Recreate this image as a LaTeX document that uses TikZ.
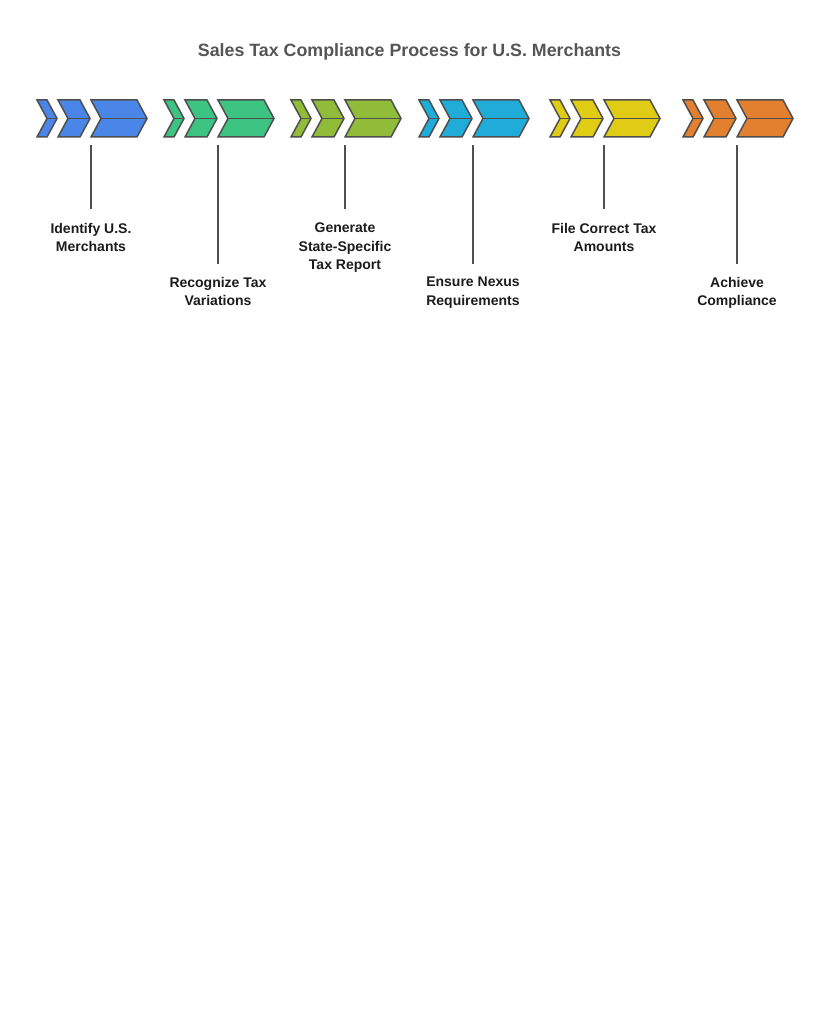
\documentclass[tikz,border=0pt]{standalone}
\usepackage{fontspec}
\setmainfont{Liberation Sans}
\usetikzlibrary{positioning}

\definecolor{stepblue}{HTML}{4A86E8}
\definecolor{stepgreen}{HTML}{3DC482}
\definecolor{stepolive}{HTML}{90BC3A}
\definecolor{stepcyan}{HTML}{20ACD8}
\definecolor{stepyellow}{HTML}{E0CC14}
\definecolor{steporange}{HTML}{E28030}
\definecolor{edgegray}{HTML}{4F4F4F}
\definecolor{titlegray}{HTML}{555555}
\definecolor{labeltext}{HTML}{1C1C1C}

\begin{document}
\begin{tikzpicture}[x=1pt,y=-1pt,
    chev/.style={draw=edgegray,line width=1.5pt,line join=miter},
    link/.style={draw=edgegray,line width=1.3pt},
    lbl/.style={align=center,inner sep=0pt,text=labeltext,font=\bfseries\fontsize{14}{18.5}\selectfont}]
    \useasboundingbox[fill=white] (0,0) rectangle (819,1024);

    \node[anchor=base,text=titlegray,font=\bfseries\fontsize{17.8}{22}\selectfont] (title) at (409.5,56.5) {Sales Tax Compliance Process for U.S. Merchants};

    \foreach \x/\c in {37/stepblue,164/stepgreen,291/stepolive,419/stepcyan,550/stepyellow,683/steporange}
    \foreach \a/\b in {0/10,21/43,54/100} {
        \draw[chev,fill=\c] (\x+\a,100) -- (\x+\b,100) -- (\x+\b+10,118.5) -- (\x+\b,137) -- (\x+\a,137) -- (\x+\a+10,118.5) -- cycle;
        \draw[chev] (\x+\a+10,118.5) -- (\x+\b+10,118.5);
    }

    \coordinate (1 group) at (91,145);
    \coordinate (2 group) at (218,145);
    \coordinate (3 group) at (345,145);
    \coordinate (4 group) at (473,145);
    \coordinate (5 group) at (604,145);
    \coordinate (6 group) at (737,145);

    \node[lbl, below=78pt of 1 group] (1 label) {Identify U.S.\\Merchants};
    \node[lbl, below=132pt of 2 group] (2 label) {Recognize Tax\\Variations};
    \node[lbl, below=78pt of 3 group] (3 label) {Generate\\State-Specific\\Tax Report};
    \node[lbl, below=132pt of 4 group] (4 label) {Ensure Nexus\\Requirements};
    \node[lbl, below=78pt of 5 group] (5 label) {File Correct Tax\\Amounts};
    \node[lbl, below=132pt of 6 group] (6 label) {Achieve\\Compliance};

    \draw[link, shorten >=14pt] (1 group) -- (1 label);
    \draw[link, shorten >=13pt] (2 group) -- (2 label);
    \draw[link, shorten >=14pt] (3 group) -- (3 label);
    \draw[link, shorten >=13pt] (4 group) -- (4 label);
    \draw[link, shorten >=14pt] (5 group) -- (5 label);
    \draw[link, shorten >=13pt] (6 group) -- (6 label);
\end{tikzpicture}
\end{document}
